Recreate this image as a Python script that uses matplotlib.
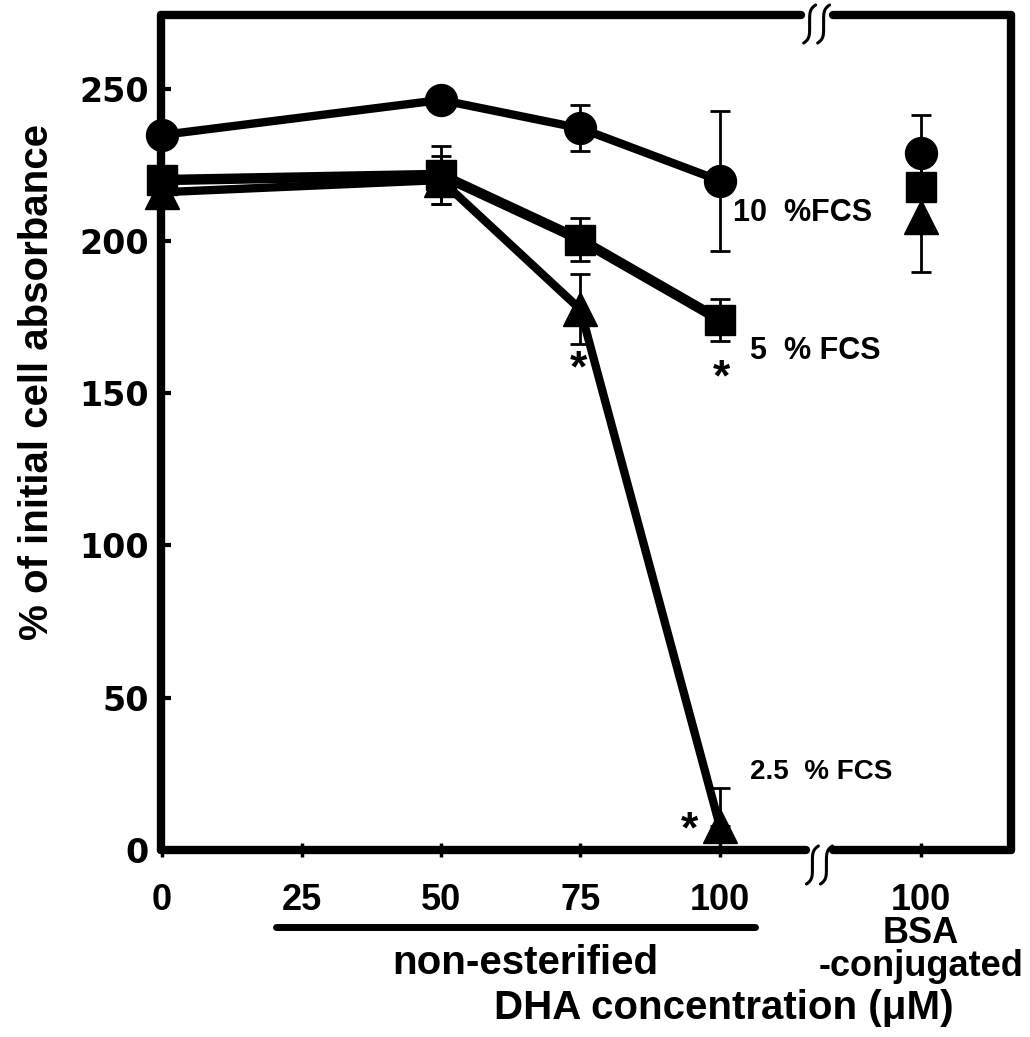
import matplotlib
matplotlib.use('Agg')
import matplotlib.pyplot as plt
import numpy as np
from matplotlib.transforms import IdentityTransform

# ---------------- data ----------------
conc = [0, 50, 75, 100]
bsa_x = 136
fcs10 = [234.8, 246.3, 237.0, 219.8]
fcs10_err = [0, 0, 7.5, 23.0]
fcs5 = [220.0, 221.7, 200.4, 174.1]
fcs5_err = [0, 9.5, 7.0, 7.0]
fcs25 = [216.0, 220.0, 177.5, 7.8]
fcs25_err_low = [0, 8.0, 11.5, 0]
fcs25_err_high = [0, 8.0, 11.5, 12.7]
bsa_vals = [228.9, 217.6, 207.8]
bsa_err = [12.5, 0, 18.0]
xtick_pos = [0, 25, 50, 75, 100, 136]
xtick_labels = ['0', '25', '50', '75', '100', '100\nBSA\n-conjugated']
ytick_pos = [0, 50, 100, 150, 200, 250]
series_labels = ['10  %FCS', '5  % FCS', '2.5  % FCS']

FONT = 'Liberation Sans'

fig = plt.figure(figsize=(10.30, 10.37), dpi=100)
ax = fig.add_axes([161/1030, (1037-850)/1037, 850/1030, 835/1037])
xmin, xmax = -0.2, 152.2
ax.set_xlim(xmin, xmax)
ax.set_ylim(0, 274.2)

series = [
    (fcs10, [fcs10_err, fcs10_err], 'o', 23, 6.0),
    (fcs5, [fcs5_err, fcs5_err], 's', 22, 7.5),
    (fcs25, [fcs25_err_low, fcs25_err_high], '^', 25, 6.0),
]
markers = ['o', 's', '^']
msizes = [23, 22, 25]

# error bars first
for vals, err, m, ms, lw in series:
    ax.errorbar(conc, vals, yerr=err, fmt='none', ecolor='k', elinewidth=2,
                capsize=7, capthick=2, zorder=2, clip_on=False)
ax.errorbar([bsa_x]*3, bsa_vals, yerr=bsa_err, fmt='none', ecolor='k',
            elinewidth=2, capsize=7, capthick=2, zorder=2, clip_on=False)

for vals, err, m, ms, lw in series:
    ax.plot(conc, vals, '-', color='k', lw=lw, marker=m, ms=ms,
            mfc='k', mec='k', zorder=4, clip_on=False)
for v, m, ms in zip(bsa_vals, markers, msizes):
    ax.plot([bsa_x], [v], linestyle='none', marker=m, ms=ms, color='k',
            zorder=4, clip_on=False)

# spines (top/bottom drawn with axis breaks)
for s in ['top', 'bottom']:
    ax.spines[s].set_visible(False)
for s in ['left', 'right']:
    ax.spines[s].set_linewidth(6)
    ax.spines[s].set_capstyle('round')
xt = ax.get_xaxis_transform()
breaks = [(1.0, (114.5, 120.2), -9), (0.0, (115.5, 120.2), -15)]
sp = np.linspace(-1, 1, 60)
for y, gap, yoff in breaks:
    ax.plot([xmin, gap[0]], [y, y], color='k', lw=6, transform=xt,
            clip_on=False, solid_capstyle='round', zorder=3)
    ax.plot([gap[1], xmax], [y, y], color='k', lw=6, transform=xt,
            clip_on=False, solid_capstyle='round', zorder=3)
    cx, cy = xt.transform(((gap[0] + gap[1]) / 2, y))
    for dx in (-7, 7):
        gx = cx + dx - 6 * sp ** 5
        gy = cy + yoff - 19 * sp
        ax.plot(gx, gy, color='k', lw=2.2, transform=IdentityTransform(),
                clip_on=False, zorder=5, solid_capstyle='round')

# ticks
ax.set_yticks(ytick_pos)
ax.set_yticklabels([str(v) for v in ytick_pos])
ax.tick_params(axis='y', direction='in', length=7, width=3, pad=9,
               labelsize=24, right=False)
for lab in ax.get_yticklabels():
    lab.set_fontfamily('DejaVu Sans')
    lab.set_fontweight('bold')

ax.set_xticks(xtick_pos)
ax.set_xticklabels(xtick_labels)
ax.tick_params(axis='x', direction='inout', length=10, width=2.5, pad=19,
               labelsize=26, top=False)
for lab in ax.get_xticklabels():
    lab.set_fontfamily(FONT)
    lab.set_fontweight('bold')
    lab.set_linespacing(0.92)

ax.set_ylabel('% of initial cell absorbance', fontsize=29, fontweight='bold',
              family=FONT)
ax.yaxis.set_label_coords(-0.123, 0.56)

# series labels
for (tx, ty), s, fs in zip([(102.3, 209.2), (105.4, 163.9), (105.4, 25.6)],
                           series_labels, [22, 22, 20]):
    ax.text(tx, ty, s, ha='left', va='center', fontsize=fs,
            fontweight='bold', family=FONT)

# asterisks
for sx, sy in [(74.6, 157.5), (100.2, 154.7), (94.5, 6.3)]:
    ax.text(sx, sy, '*', ha='center', va='center', fontsize=32,
            fontweight='bold', family=FONT, zorder=5)

# x axis description
ax.plot([20.4, 106.3], [-0.0922, -0.0922], color='k', lw=5, transform=xt,
        clip_on=False, solid_capstyle='round')
ax.text(65.1, -0.1353, 'non-esterified', transform=xt, ha='center',
        va='center', fontsize=29, fontweight='bold', family=FONT)
ax.text(100.7, -0.189, 'DHA concentration (\u03bcM)', transform=xt,
        ha='center', va='center', fontsize=29, fontweight='bold', family=FONT)

fig.savefig('out.png', dpi=100)
